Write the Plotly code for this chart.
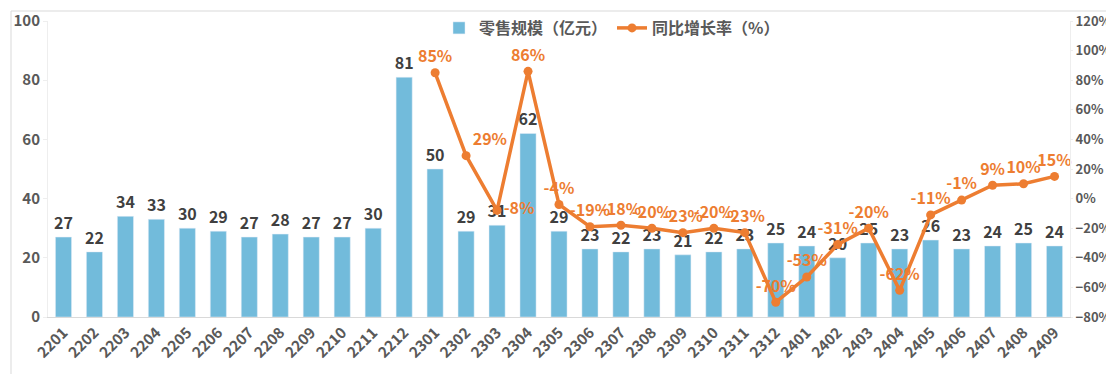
import plotly.graph_objects as go

months = ["2201","2202","2203","2204","2205","2206","2207","2208","2209","2210","2211","2212",
          "2301","2302","2303","2304","2305","2306","2307","2308","2309","2310","2311","2312",
          "2401","2402","2403","2404","2405","2406","2407","2408","2409"]
retail = [27,22,34,33,30,29,27,28,27,27,30,81,
          50,29,31,62,29,23,22,23,21,22,23,25,
          24,20,25,23,26,23,24,25,24]
yoy = [None]*12 + [85,29,-8,86,-4,-19,-18,-20,-23,-20,-23,-70,
                   -53,-31,-20,-62,-11,-1,9,10,15]
yoy_pos = ["top center"]*33
yoy_pos[13] = "top right"
yoy_pos[14] = "middle right"

BLUE = "#72BBDB"
ORANGE = "#ED7D31"
FONT = "Noto Sans CJK SC"

fig = go.Figure()
fig.add_trace(go.Bar(
    x=months, y=retail, name="零售规模（亿元）", marker_color=BLUE,
    text=[str(v) for v in retail], textposition="outside", cliponaxis=False,
    constraintext="none",
    textfont=dict(size=16, color="#404040", family=FONT, weight="bold"),
))
fig.add_trace(go.Scatter(
    x=months, y=yoy, name="同比增长率（%）", yaxis="y2", mode="lines+markers+text",
    line=dict(color=ORANGE, width=3.5), marker=dict(size=9, color=ORANGE),
    text=[f"{v}%" if v is not None else "" for v in yoy], textposition=yoy_pos,
    textfont=dict(size=16, color=ORANGE, family=FONT, weight="bold"), cliponaxis=False,
))

L, R, T, B = 40, 52, 13, 65
W, H = 1114, 374
pw, ph = W - L - R, H - T - B

fig.update_layout(
    width=W, height=H, margin=dict(l=L, r=R, t=T, b=B, autoexpand=False),
    paper_bgcolor="white", plot_bgcolor="white",
    font=dict(family=FONT, color="#595959"),
    bargap=0.48, showlegend=True,
    legend=dict(orientation="h", x=604 / W, xref="container", xanchor="center",
                y=1 - 20 / H, yref="container", yanchor="middle",
                font=dict(size=16, color="#595959", family=FONT, weight="bold"), bgcolor="rgba(0,0,0,0)"),
    xaxis=dict(type="category", range=[-0.5, len(months) - 0.5], autorange=False,
               tickangle=-45, tickfont=dict(size=15, color="#595959", weight="bold"),
               showline=True, linecolor="#D9D9D9", linewidth=1, showgrid=False, ticks="",
               automargin=False),
    yaxis=dict(range=[0, 100], dtick=20, showgrid=False, showline=True, linecolor="#EEEEEE",
               ticks="outside", ticklen=4, tickcolor="#EEEEEE", automargin=False,
               tickfont=dict(size=15, color="#595959", weight="bold"), zeroline=False),
    yaxis2=dict(range=[-80, 120], dtick=20, overlaying="y", side="right", showgrid=False,
                showline=True, linecolor="#EEEEEE", ticks="outside", ticklen=2, tickcolor="#EEEEEE",
                automargin=False, ticklabelstandoff=0,
                ticksuffix="%", tickfont=dict(size=13, color="#595959", weight="bold"), zeroline=False),
)
fig.add_shape(type="rect", xref="paper", yref="paper",
              x0=(3 - L) / pw, x1=(1108 - L) / pw, y0=1 - (369 - T) / ph, y1=1 - (3 - T) / ph,
              line=dict(color="#D9D9D9", width=1), fillcolor="rgba(0,0,0,0)", layer="below")

fig.write_html("out.html")
